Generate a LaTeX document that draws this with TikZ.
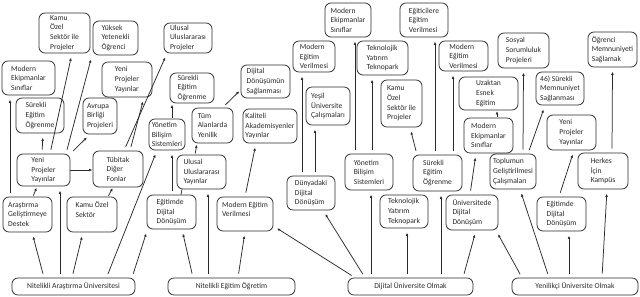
\documentclass[tikz,border=0pt]{standalone}
\usepackage{fontspec}
\setmainfont{Carlito}
\usetikzlibrary{arrows.meta}
\definecolor{ink}{HTML}{2a2a2a}
\tikzset{
  box/.style={draw=ink, line width=0.75pt, rounded corners=6pt, align=left, inner sep=1pt,
    font=\fontsize{7.6}{9.6}\selectfont, text=ink, fill=white},
  root/.style={box, align=center, minimum height=17pt},
  conn/.style={draw=ink, line width=0.75pt, shorten <=4pt, shorten >=4.5pt, -{Latex[length=3pt,width=2.8pt]}},
  plain/.style={draw=ink, line width=0.75pt, shorten <=4pt, shorten >=4pt}
}
\begin{document}
\begin{tikzpicture}[x=1pt,y=-1pt]
\useasboundingbox (0,0) rectangle (640,297);
% ---- left group
\node[box, minimum width=51pt, minimum height=40pt] (A1) at (64.5,33) {Kamu\\Özel\\Sektör ile\\Projeler};
\node[box, minimum width=45pt, minimum height=34pt] (A2) at (115.5,38) {Yüksek\\Yetenekli\\Öğrenci};
\node[box, minimum width=53pt, minimum height=34pt] (A3) at (28.5,78) {Modern\\Ekipmanlar\\Sınıflar};
\node[box, minimum width=50pt, minimum height=35pt] (A4) at (127,79.5) {Yeni\\Projeler\\Yayınlar};
\node[box, minimum width=48pt, minimum height=35pt] (A5) at (40,115.5) {Sürekli\\Eğitim\\Öğrenme};
\node[box, minimum width=34pt, minimum height=36pt] (A6) at (100,116) {Avrupa\\Birliği\\Projeleri};
\node[box, minimum width=53pt, minimum height=32pt] (A7) at (43.5,170) {Yeni\\Projeler\\Yayınlar};
\node[box, minimum width=50pt, minimum height=36pt] (A8) at (118,169) {Tübitak\\Diğer\\Fonlar};
\node[box, minimum width=49pt, minimum height=35pt] (A9) at (27.5,214.5) {Araştırma\\Geliştirmeye\\Destek};
\node[box, minimum width=50pt, minimum height=35pt] (A10) at (92,214.5) {Kamu Özel\\Sektör\\\mbox{}};
\node[root, minimum width=123pt] (R1) at (73.5,286.5) {Nitelikli Araştırma Üniversitesi};
% ---- middle-left group
\node[box, minimum width=48pt, minimum height=30pt] (B1) at (188,38) {Ulusal\\Uluslararası\\Projeler};
\node[box, minimum width=44pt, minimum height=30pt] (B2) at (192,88) {Sürekli\\Eğitim\\Öğrenme};
\node[box, minimum width=49pt, minimum height=33pt] (B3) at (265.5,81.5) {Dijital\\Dönüşümün\\Sağlanması};
\node[box, minimum width=36pt, minimum height=31pt] (B4) at (167,134.5) {Yönetim\\Bilişim\\Sistemleri};
\node[box, minimum width=41pt, minimum height=35pt] (B5) at (212.5,125.5) {Tüm\\Alanlarda\\Yenilik};
\node[box, minimum width=54pt, minimum height=34pt] (B6) at (270,126) {Kaliteli\\Akademisyenler\\Yayınlar};
\node[box, minimum width=49pt, minimum height=34pt] (B7) at (201.5,172) {Ulusal\\Uluslararası\\Yayınlar};
\node[box, minimum width=49pt, minimum height=34pt] (B8) at (171.5,212) {Eğitimde\\Dijital\\Dönüşüm};
\node[box, minimum width=56pt, minimum height=34pt] (B9) at (245,214) {Modern Eğitim\\Verilmesi\\\mbox{}};
\node[root, minimum width=127pt] (R2) at (231.5,286.5) {Nitelikli Eğitim Öğretim};
% ---- middle-right group
\node[box, minimum width=42pt, minimum height=31pt] (C1) at (314,56.5) {Modern\\Eğitim\\Verilmesi};
\node[box, minimum width=44pt, minimum height=38pt] (C2) at (328,106) {Yeşil\\Üniversite\\Çalışmaları};
\node[box, minimum width=46pt, minimum height=34pt] (C3) at (348,20) {Modern\\Ekipmanlar\\Sınıflar};
\node[box, minimum width=51pt, minimum height=34pt] (C4) at (382.5,58) {Teknolojik\\Yatırım\\Teknopark};
\node[box, minimum width=41pt, minimum height=47pt] (C5) at (401.5,103.5) {Kamu\\Özel\\Sektör ile\\Projeler};
\node[box, minimum width=48pt, minimum height=34pt] (C6) at (424,20) {Eğiticilere\\Eğitim\\Verilmesi};
\node[box, minimum width=49pt, minimum height=30pt] (C7) at (463.5,56) {Modern\\Eğitim\\Verilmesi};
\node[box, minimum width=48pt, minimum height=34pt] (C8) at (311,193) {Dünyadaki\\Dijital\\Dönüşüm};
\node[box, minimum width=48pt, minimum height=36pt] (C9) at (369,172) {Yönetim\\Bilişim\\Sistemleri};
\node[box, minimum width=49pt, minimum height=36pt] (C10) at (437.5,173) {Sürekli\\Eğitim\\Öğrenme};
\node[box, minimum width=48pt, minimum height=33pt] (C11) at (404,211.5) {Teknolojik\\Yatırım\\Teknopark};
\node[box, minimum width=52pt, minimum height=35pt] (C12) at (472,212.5) {Üniversitede\\Dijital\\Dönüşüm};
\node[root, minimum width=125pt] (R3) at (410.5,286.5) {Dijital Üniversite Olmak};
% ---- right group
\node[box, minimum width=59pt, minimum height=33pt] (D1) at (488.5,93.5) {Uzaktan\\Esnek\\Eğitim};
\node[box, minimum width=51pt, minimum height=35pt] (D2) at (523.5,50.5) {Sosyal\\Sorumluluk\\Projeleri};
\node[box, minimum width=48pt, minimum height=33pt] (D3) at (560,88.5) {46) Sürekli\\Memnuniyet\\Sağlanması};
\node[box, minimum width=49pt, minimum height=35pt] (D4) at (612.5,49.5) {Öğrenci\\Memnuniyeti\\Sağlamak};
\node[box, minimum width=49pt, minimum height=35pt] (D5) at (488.5,135.5) {Modern\\Ekipmanlar\\Sınıflar};
\node[box, minimum width=46pt, minimum height=35pt] (D6) at (513,171.5) {Toplumun\\Geliştirilmesi\\Çalışmaları};
\node[box, minimum width=49pt, minimum height=35pt] (D7) at (571.5,132.5) {Yeni\\Projeler\\Yayınlar};
\node[box, minimum width=50pt, minimum height=36pt] (D8) at (603,171) {Herkes\\İçin\\Kampüs};
\node[box, minimum width=49pt, minimum height=34pt] (D9) at (561.5,214) {Eğitimde\\Dijital\\Dönüşüm};
\node[root, minimum width=126pt] (R4) at (575,286.5) {Yenilikçi Üniversite Olmak};
% ---- connectors, left
\draw[conn] ([xshift=-29.5pt]R1.north) -- ([xshift=4.5pt]A9.south);
\draw[conn] ([xshift=-13.5pt]R1.north) -- ([xshift=16.5pt]A7.south);
\draw[conn] ([xshift=-1.5pt]R1.north) -- ([xshift=-9pt]A10.south);
\draw[conn] ([xshift=58.5pt]R1.north) -- ([xshift=-24pt]B8.south);
\draw[conn] ([xshift=33pt]R1.north) -- ([xshift=-10pt]B4.south);
\draw[conn] ([xshift=-17.5pt]A9.north) -- ([xshift=-18.5pt]A3.south);
\draw[conn, shorten <=1pt, shorten >=1.5pt] ([xshift=5.5pt]A9.north) -- ([xshift=-6.5pt]A7.south);
\draw[conn] ([xshift=-1.5pt]A7.north) -- ([xshift=3pt]A5.south);
\draw[conn] ([xshift=6.5pt]A7.north) -- ([xshift=7.5pt]A1.south);
\draw[conn] ([xshift=22.5pt]A7.north) -- ([xshift=-23.5pt]A2.south);
\draw[conn] (A7.north east) -- ([xshift=-10pt]A6.south);
\draw[conn, shorten <=0pt, shorten >=0.5pt] (A7.east) -- (A7.east -| A8.west);
\draw[conn, shorten <=1pt, shorten >=1pt] ([xshift=16pt]A10.north) -- ([xshift=-5pt]A8.south);
\draw[conn] ([xshift=12pt]A8.north) -- ([xshift=17pt]A4.south);
\draw[conn] ([xshift=6pt]A8.north) -- ([xshift=-21pt]B1.south);
% ---- connectors, middle-left
\draw[conn] ([xshift=0.5pt]B8.north) -- ([xshift=5pt]B4.south);
\draw[plain, shorten <=0pt, shorten >=0pt] ([xshift=9.5pt]B8.north) -- ([xshift=-19.5pt]B7.south);
\draw[conn] ([xshift=-38.5pt]R2.north) -- ([xshift=10.5pt]B8.south);
\draw[conn] ([xshift=-23.5pt]R2.north) -- ([xshift=6.5pt]B7.south);
\draw[conn] ([xshift=6.5pt]R2.north) -- (B9.south);
\draw[conn, shorten <=1pt, shorten >=1.5pt] ([xshift=-6.5pt]B7.north) -- ([xshift=-15.5pt]B5.south);
\draw[conn, shorten <=1pt, shorten >=1.5pt] ([xshift=5pt]B4.north) -- ([xshift=-20pt]B2.south);
\draw[conn, shorten >=2pt] ([xshift=10pt]B5.north) -- ([yshift=-8.5pt]B3.west);
\draw[conn] (B9.north) -- ([xshift=-14pt]B6.south);
% ---- connectors, middle-right
\draw[conn] ([xshift=-55.5pt]R3.north) -- ([yshift=-12pt]B9.east);
\draw[conn] ([xshift=-45.5pt]R3.north) -- ([xshift=12pt]C8.south);
\draw[conn] ([xshift=-39.5pt]R3.north) -- ([xshift=2pt]C9.south);
\draw[conn] ([xshift=-3.5pt]R3.north) -- ([xshift=3pt]C11.south);
\draw[conn] ([xshift=30.5pt]R3.north) -- ([xshift=3.5pt]C10.south);
\draw[conn] ([xshift=52.5pt]R3.north) -- ([xshift=4pt]C12.south);
\draw[conn] ([xshift=-9pt]C8.north) -- ([xshift=-12pt]C1.south);
\draw[conn] ([xshift=4pt]C8.north) -- ([xshift=-13pt]C2.south);
\draw[conn] ([xshift=-14pt]C9.north) -- ([xshift=7pt]C3.south);
\draw[conn] ([xshift=3pt]C9.north) -- ([xshift=-10.5pt]C4.south);
\draw[conn] ([xshift=-20.5pt]C10.north) -- ([xshift=8.5pt]C5.south);
\draw[conn] ([xshift=-2.5pt]C10.north) -- ([xshift=11pt]C6.south);
\draw[conn] ([xshift=15.5pt]C10.north) -- ([xshift=-10.5pt]C7.south);
\draw[conn] ([xshift=-2pt]C12.north) -- ([xshift=-12.5pt]D5.south);
% ---- connectors, right
\draw[conn] ([xshift=-53pt]R4.north) -- ([xshift=24pt]C12.south);
\draw[conn] ([xshift=-26pt]R4.north) -- ([xshift=7pt]D6.south);
\draw[conn] ([xshift=-6pt]R4.north) -- ([xshift=7.5pt]D9.south);
\draw[conn] ([xshift=27pt]R4.north) -- ([xshift=4pt]D8.south);
\draw[conn, shorten <=1pt, shorten >=1pt] ([xshift=8.5pt]D5.north) -- ([xshift=8.5pt]D1.south);
\draw[conn] ([xshift=10pt]D6.north) -- (D2.south);
\draw[conn] ([xshift=15pt]D6.north) -- ([xshift=-15pt]D3.south);
\draw[conn] ([xshift=-2.5pt]D9.north) -- ([xshift=2.5pt]D7.south);
\draw[conn] ([xshift=9pt]D8.north) -- (D4.south);
\end{tikzpicture}
\end{document}
